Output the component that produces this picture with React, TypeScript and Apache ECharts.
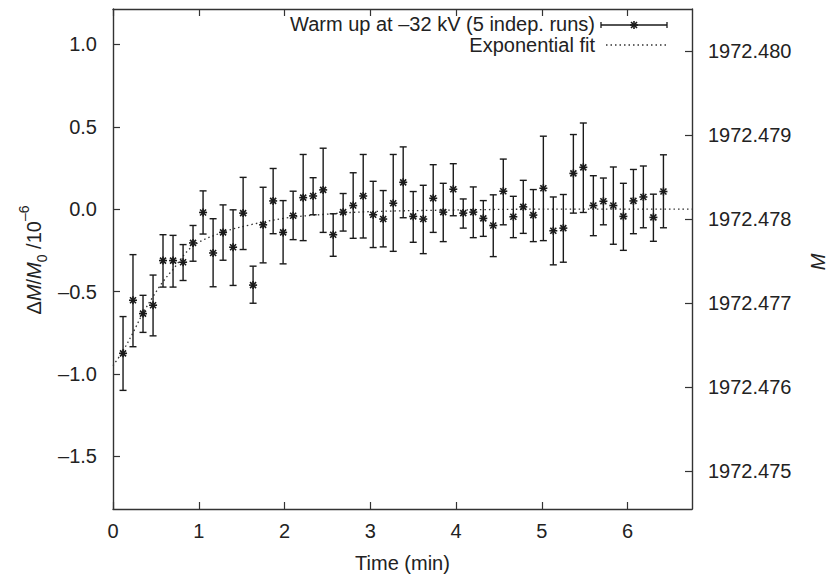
import React, { useEffect, useRef } from "react";
import * as echarts from "echarts";

// Time of each averaged point (min)
const timeMin = [
  0.117, 0.233, 0.35, 0.467, 0.583, 0.7, 0.817, 0.933, 1.05, 1.167,
  1.283, 1.4, 1.517, 1.633, 1.75, 1.867, 1.983, 2.1, 2.217, 2.333,
  2.45, 2.567, 2.683, 2.8, 2.917, 3.033, 3.15, 3.267, 3.383, 3.5,
  3.617, 3.733, 3.85, 3.967, 4.083, 4.2, 4.317, 4.433, 4.55, 4.667,
  4.783, 4.9, 5.017, 5.133, 5.25, 5.367, 5.483, 5.6, 5.717, 5.833,
  5.95, 6.067, 6.183, 6.3, 6.417,
];
// ΔM/M0 (10^-6)
const deltaM = [
  -0.875, -0.553, -0.634, -0.583, -0.312, -0.312, -0.322, -0.205, -0.02, -0.266,
  -0.141, -0.231, -0.024, -0.461, -0.095, 0.05, -0.141, -0.04, 0.07, 0.08,
  0.117, -0.155, -0.018, 0.022, 0.08, -0.034, -0.06, 0.036, 0.163, -0.044,
  -0.06, 0.066, -0.018, 0.121, -0.024, -0.018, -0.056, -0.099, 0.109, -0.046,
  0.014, -0.036, 0.127, -0.131, -0.115, 0.217, 0.254, 0.022, 0.048, 0.022,
  -0.044, 0.05, 0.074, -0.05, 0.107,
];
const errHigh = [
  -0.652, -0.276, -0.523, -0.4, -0.155, -0.159, -0.215, -0.099, 0.111, -0.058,
  0.026, -0.004, 0.193, -0.346, 0.133, 0.247, 0.052, 0.109, 0.332, 0.191,
  0.37, -0.028, 0.095, 0.221, 0.332, 0.169, 0.113, 0.332, 0.378, 0.107,
  0.145, 0.27, 0.157, 0.276, 0.062, 0.135, 0.052, 0.087, 0.304, 0.078,
  0.175, 0.119, 0.443, 0.074, 0.089, 0.453, 0.523, 0.203, 0.189, 0.256,
  0.157, 0.241, 0.262, 0.091, 0.33,
];
const errLow = [
  -1.1, -0.835, -0.748, -0.769, -0.473, -0.473, -0.433, -0.316, -0.151, -0.471,
  -0.31, -0.463, -0.245, -0.571, -0.326, -0.149, -0.332, -0.185, -0.191, -0.034,
  -0.141, -0.286, -0.133, -0.177, -0.175, -0.233, -0.229, -0.256, -0.052, -0.201,
  -0.27, -0.141, -0.197, -0.04, -0.115, -0.173, -0.165, -0.288, -0.095, -0.173,
  -0.147, -0.197, -0.191, -0.338, -0.322, -0.024, -0.02, -0.161, -0.095, -0.213,
  -0.25, -0.149, -0.113, -0.195, -0.113,
];
// Exponential fit curve
const fitTime = [0, 0.117, 0.233, 0.35, 0.467, 0.583, 0.7, 0.93, 1.28, 1.6, 2.0, 2.5, 3.0, 4.0, 5.0, 6.75];
const fitValue = [-0.95, -0.86, -0.75, -0.63, -0.53, -0.44, -0.365, -0.225, -0.14, -0.095, -0.055, -0.03, -0.015, -0.005, 0, 0];

const xTicks = [0, 1, 2, 3, 4, 5, 6];
const yTicks = [-1.5, -1, -0.5, 0, 0.5, 1];
const y2Ticks = [1972.475, 1972.476, 1972.477, 1972.478, 1972.479, 1972.48];

const FONT = '"Liberation Sans", Arial, Helvetica, sans-serif';
const INK = "#222";
const LINE = "#333";

export default function App() {
  const ref = useRef<HTMLDivElement>(null);
  useEffect(() => {
    if (!ref.current) return;
    const chart = echarts.init(ref.current, null, { renderer: "svg" });
    const axisLine = { show: true, onZero: false, lineStyle: { color: LINE, width: 1.4 } };
    const tickStyle = { color: LINE, width: 1.2 };
    const labelBase = { fontSize: 20, color: INK, fontFamily: FONT };
    const fmtDash = (v: number, d: number) =>
      (v < 0 ? "\u2013" : "") + Math.abs(v).toFixed(d);

    const errData = timeMin.map((t, i) => [t, deltaM[i], errLow[i], errHigh[i]]);
    const fitData = fitTime.map((t, i) => [t, fitValue[i]]);

    const barStyle = { stroke: "#1a1a1a", lineWidth: 1.4 };

    const option: any = {
      animation: false,
      grid: { left: 113, right: 145, top: 9, bottom: 67, containLabel: false },
      xAxis: [
        {
          type: "value",
          min: 0,
          max: 6.75,
          position: "bottom",
          axisLine,
          axisTick: { show: true, inside: true, length: 7, lineStyle: tickStyle, customValues: xTicks },
          axisLabel: { ...labelBase, margin: 12, customValues: xTicks, formatter: (v: number) => String(v) },
          splitLine: { show: false },
          name: "Time (min)",
          nameLocation: "middle",
          nameGap: 44,
          nameTextStyle: { ...labelBase },
        },
        {
          type: "value",
          min: 0,
          max: 6.75,
          position: "top",
          axisLine,
          axisTick: { show: true, inside: true, length: 7, lineStyle: tickStyle, customValues: xTicks },
          axisLabel: { show: false },
          splitLine: { show: false },
        },
      ],
      yAxis: [
        {
          type: "value",
          min: -1.82,
          max: 1.215,
          position: "left",
          axisLine,
          axisTick: { show: true, inside: true, length: 7, lineStyle: tickStyle, customValues: yTicks },
          axisLabel: { ...labelBase, margin: 16, customValues: yTicks, formatter: (v: number) => fmtDash(v, 1) },
          splitLine: { show: false },
        },
        {
          type: "value",
          min: 1972.47455,
          max: 1972.4805,
          position: "right",
          axisLine,
          axisTick: { show: true, inside: true, length: 7, lineStyle: tickStyle, customValues: y2Ticks },
          axisLabel: { ...labelBase, margin: 16, customValues: y2Ticks, formatter: (v: number) => v.toFixed(3) },
          splitLine: { show: false },
        },
      ],
      series: [
        {
          type: "line",
          name: "Exponential fit",
          xAxisIndex: 0,
          yAxisIndex: 0,
          data: fitData,
          smooth: 0.35,
          showSymbol: false,
          symbol: "none",
          lineStyle: { color: "#333", width: 1.3, type: [1.5, 3] },
          z: 2,
        },
        {
          type: "custom",
          name: "Warm up",
          xAxisIndex: 0,
          yAxisIndex: 0,
          data: errData,
          encode: { x: 0, y: [1, 2, 3] },
          z: 3,
          renderItem: (params: any, api: any) => {
            const t = api.value(0);
            const p = api.coord([t, api.value(1)]);
            const pl = api.coord([t, api.value(2)]);
            const ph = api.coord([t, api.value(3)]);
            const c = 3.5;
            const s = 4;
            const d = 3;
            const ln = (x1: number, y1: number, x2: number, y2: number, w = 1.4) => ({
              type: "line",
              shape: { x1, y1, x2, y2 },
              style: { ...barStyle, lineWidth: w },
            });
            return {
              type: "group",
              children: [
                ln(ph[0], ph[1], pl[0], pl[1]),
                ln(ph[0] - c, ph[1], ph[0] + c, ph[1]),
                ln(pl[0] - c, pl[1], pl[0] + c, pl[1]),
                ln(p[0] - s, p[1], p[0] + s, p[1], 1.6),
                ln(p[0], p[1] - s, p[0], p[1] + s, 1.6),
                ln(p[0] - d, p[1] - d, p[0] + d, p[1] + d, 1.6),
                ln(p[0] - d, p[1] + d, p[0] + d, p[1] - d, 1.6),
              ],
            };
          },
        },
      ],
      graphic: [
        {
          type: "text",
          x: 595,
          y: 24,
          style: {
            text: "Warm up at \u201332 kV (5 indep. runs)",
            fontSize: 20,
            fontFamily: FONT,
            fill: INK,
            align: "right",
            verticalAlign: "middle",
          },
        },
        {
          type: "text",
          x: 595,
          y: 45,
          style: {
            text: "Exponential fit",
            fontSize: 20,
            fontFamily: FONT,
            fill: INK,
            align: "right",
            verticalAlign: "middle",
          },
        },
        { type: "line", shape: { x1: 601, y1: 25, x2: 667, y2: 25 }, style: { stroke: "#1a1a1a", lineWidth: 1.3 } },
        { type: "line", shape: { x1: 601, y1: 22, x2: 601, y2: 28 }, style: { stroke: "#1a1a1a", lineWidth: 1.3 } },
        { type: "line", shape: { x1: 667, y1: 22, x2: 667, y2: 28 }, style: { stroke: "#1a1a1a", lineWidth: 1.3 } },
        { type: "line", shape: { x1: 630, y1: 25, x2: 638, y2: 25 }, style: { stroke: "#1a1a1a", lineWidth: 1.6 } },
        { type: "line", shape: { x1: 634, y1: 21, x2: 634, y2: 29 }, style: { stroke: "#1a1a1a", lineWidth: 1.6 } },
        { type: "line", shape: { x1: 631, y1: 22, x2: 637, y2: 28 }, style: { stroke: "#1a1a1a", lineWidth: 1.6 } },
        { type: "line", shape: { x1: 631, y1: 28, x2: 637, y2: 22 }, style: { stroke: "#1a1a1a", lineWidth: 1.6 } },
        {
          type: "line",
          shape: { x1: 606, y1: 45, x2: 666, y2: 45 },
          style: { stroke: "#333", lineWidth: 1.3, lineDash: [1.5, 3] },
        },
        {
          type: "text",
          x: 34,
          y: 260,
          rotation: Math.PI / 2,
          style: {
            text: "{r|\u0394}{i|M}{r|/}{i|M}{sub|0}{r| /10}{sup|\u20136}",
            align: "center",
            verticalAlign: "middle",
            fill: INK,
            rich: {
              r: { fontSize: 20, fontFamily: FONT, fill: INK, lineHeight: 34, verticalAlign: "middle" },
              i: { fontSize: 20, fontFamily: FONT, fontStyle: "italic", fill: INK, lineHeight: 34, verticalAlign: "middle" },
              sub: { fontSize: 14, fontFamily: FONT, fill: INK, lineHeight: 14, verticalAlign: "bottom", padding: [0, 0, 2, 0] },
              sup: { fontSize: 14, fontFamily: FONT, fill: INK, lineHeight: 14, verticalAlign: "top" },
            },
          },
        },
        {
          type: "text",
          x: 818,
          y: 262,
          rotation: Math.PI / 2,
          style: {
            text: "M",
            fontSize: 20,
            fontFamily: FONT,
            fontStyle: "italic",
            fill: INK,
            align: "center",
            verticalAlign: "middle",
          },
        },
      ],
    };
    chart.setOption(option);
    return () => chart.dispose();
  }, []);
  return (
    <div
      ref={ref}
      style={{ position: "fixed", left: 0, top: 0, width: 837, height: 578, background: "#fff" }}
    />
  );
}
